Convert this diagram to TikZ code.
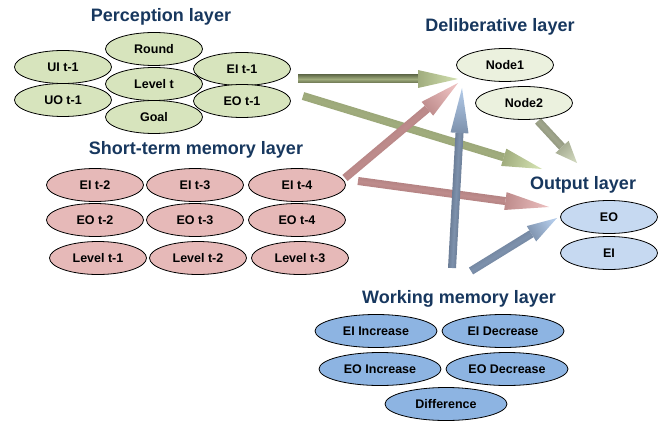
\documentclass[tikz,border=0pt]{standalone}
\usepackage{fontspec}
\setmainfont{Liberation Sans}
\usetikzlibrary{shapes.geometric,calc}
\definecolor{titleblue}{RGB}{23,55,94}
\definecolor{percfill}{RGB}{215,228,189}
\definecolor{delibfill}{RGB}{235,241,222}
\definecolor{stmfill}{RGB}{230,185,184}
\definecolor{outfill}{RGB}{198,217,241}
\definecolor{wmfill}{RGB}{141,180,226}
% arrow colours: dark, middle, light
\definecolor{gdark}{RGB}{105,115,80}
\definecolor{gmid}{RGB}{160,172,125}
\definecolor{glight}{RGB}{210,224,176}
\definecolor{rdark}{RGB}{140,95,95}
\definecolor{rmid}{RGB}{190,140,140}
\definecolor{rlight}{RGB}{235,190,190}
\definecolor{bdark}{RGB}{80,95,118}
\definecolor{bmid}{RGB}{125,145,172}
\definecolor{blight}{RGB}{178,202,232}
\definecolor{ndark}{RGB}{115,120,100}
\definecolor{nmid}{RGB}{160,166,140}
\definecolor{nlight}{RGB}{205,212,186}

% fat shaded arrow: from, to, dark, mid, light, head length
\newcommand\fatarrow[6]{%
  \pgfmathanglebetweenpoints{\pgfpointanchor{#1}{center}}{\pgfpointanchor{#2}{center}}%
  \let\arrang\pgfmathresult
  \coordinate (hb) at ($(#2)!#6!(#1)$);
  \shade[top color=#3, bottom color=#3, middle color=#4, shading angle=\arrang]
    ($(#1)!4pt!90:(#2)$) -- ($(hb)!4pt!-90:(#1)$) -- ($(hb)!4pt!90:(#1)$)
    -- ($(#1)!4pt!-90:(#2)$) -- cycle;
  \shade[left color=#4, right color=#5, shading angle=\arrang+90]
    ($(hb)!9pt!-90:(#1)$) -- (#2) -- ($(hb)!9pt!90:(#1)$) -- cycle;
}

\tikzset{
  cell/.style={ellipse, draw=black, line width=0.8pt, inner sep=0pt,
    minimum width=97pt, minimum height=33pt,
    font=\fontsize{12.5}{14}\selectfont\bfseries},
  perc/.style={cell, fill=percfill},
  delib/.style={cell, fill=delibfill},
  stm/.style={cell, fill=stmfill},
  outl/.style={cell, fill=outfill},
  wm/.style={cell, fill=wmfill, minimum width=122pt},
  layer/.style={font=\fontsize{18}{20}\selectfont\bfseries, text=titleblue},
}

\begin{document}
\begin{tikzpicture}[x=1pt, y=-1pt]
\useasboundingbox (0,0) rectangle (668,422);

% perception layer
\node[layer] (tperc) at (161,17) {Perception layer};
\node[perc] (round) at (154,49) {Round};
\node[perc] (uit1) at (63,67) {UI t-1};
\node[perc] (levelt) at (154,84) {Level t};
\node[perc] (eit1) at (242,69) {EI t-1};
\node[perc] (uot1) at (63,100) {UO t-1};
\node[perc] (eot1) at (242,101) {EO t-1};
\node[perc] (goal) at (154,117) {Goal};

% deliberative layer
\node[layer] (tdelib) at (500,27) {Deliberative layer};
\node[delib] (node1) at (505,65) {Node1};
\node[delib] (node2) at (524,103) {Node2};

% short-term memory layer
\node[layer] (tstm) at (196,150) {Short-term memory layer};
\foreach \n/\x/\t in {eit2/95/EI t-2, eit3/195/EI t-3, eit4/297/EI t-4}
  \node[stm] (\n) at (\x,185) {\t};
\foreach \n/\x/\t in {eot2/95/EO t-2, eot3/195/EO t-3, eot4/297/EO t-4}
  \node[stm] (\n) at (\x,220) {\t};
\foreach \n/\x/\t in {levt1/98/Level t-1, levt2/198/Level t-2, levt3/300/Level t-3}
  \node[stm] (\n) at (\x,258) {\t};

% output layer
\node[layer] (tout) at (583,185) {Output layer};
\node[outl] (eo) at (609,217) {EO};
\node[outl] (ei) at (609,253) {EI};

% working memory layer
\node[layer] (twm) at (459,299) {Working memory layer};
\node[wm] (eiinc) at (376,331) {EI Increase};
\node[wm] (eidec) at (503,331) {EI Decrease};
\node[wm] (eoinc) at (380,369) {EO Increase};
\node[wm] (eodec) at (507,369) {EO Decrease};
\node[wm] (diff) at (446,404) {Difference};

% arrow ends
\path
  (298,79) coordinate (g1s) (458,79) coordinate (g1e)
  (303,96) coordinate (g2s) (542,169) coordinate (g2e)
  (538,121) coordinate (g3s) (577,163) coordinate (g3e)
  (345,178) coordinate (r1s) (458,83) coordinate (r1e)
  (358,181) coordinate (r2s) (549,207) coordinate (r2e)
  (452,268) coordinate (b1s) (462,88) coordinate (b1e)
  (471,271) coordinate (b2s) (557,218) coordinate (b2e)
  ;
\fatarrow{g1s}{g1e}{gdark}{gmid}{glight}{40pt}
\fatarrow{g2s}{g2e}{gdark}{gmid}{glight}{40pt}
\fatarrow{g3s}{g3e}{ndark}{nmid}{nlight}{22pt}
\fatarrow{r1s}{r1e}{rdark}{rmid}{rlight}{40pt}
\fatarrow{r2s}{r2e}{rdark}{rmid}{rlight}{44pt}
\fatarrow{b1s}{b1e}{bdark}{bmid}{blight}{45pt}
\fatarrow{b2s}{b2e}{bdark}{bmid}{blight}{30pt}
\end{tikzpicture}
\end{document}
